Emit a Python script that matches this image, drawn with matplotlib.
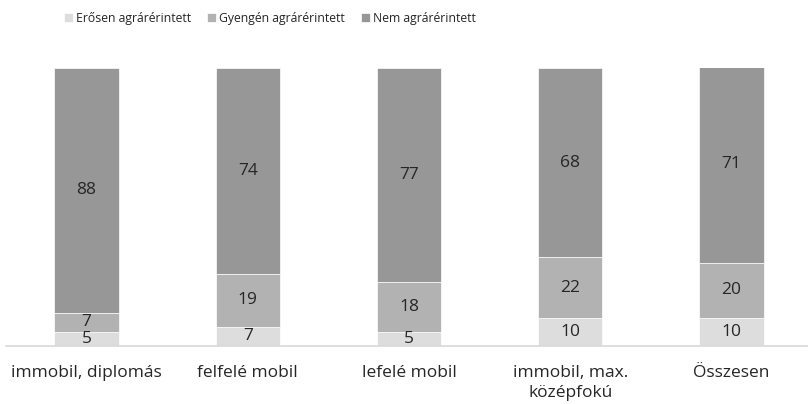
import matplotlib.pyplot as plt
import numpy as np

plt.rcParams['font.family'] = ['Open Sans', 'DejaVu Sans']

categories = ['immobil, diplomás', 'felfelé mobil', 'lefelé mobil',
              'immobil, max.\nközépfokú', 'Összesen']
series_names = ['Erősen agrárérintett', 'Gyengén agrárérintett', 'Nem agrárérintett']
eros = [5, 7, 5, 10, 10]
gyenge = [7, 19, 18, 22, 20]
nem = [88, 74, 77, 68, 71]
colors = ['#dddddd', '#b2b2b2', '#979797']

fig = plt.figure(figsize=(8.08, 4.04), dpi=100)
ax = fig.add_axes([6 / 808, 58 / 404, 806 / 808, 278 / 404])

x = np.arange(len(categories))
bottom = np.zeros(len(categories))
for name, vals, col in zip(series_names, [eros, gyenge, nem], colors):
    vals = np.array(vals)
    ax.bar(x, vals, 0.4, bottom=bottom, color=col, label=name,
           edgecolor='white', linewidth=0.5)
    for xi, b, v in zip(x, bottom, vals):
        ax.text(xi, b + v / 2, str(v), ha='center', va='center',
                fontsize=12.5, color='#262626')
    bottom += vals

ax.set_xlim(-0.5, 4.5)
ax.set_ylim(0, 100)
ax.set_xticks(x)
ax.set_xticklabels(categories, fontsize=12.5, color='#262626', linespacing=1.3)
ax.tick_params(axis='x', length=0, pad=14)
ax.set_yticks([])
for s in ['top', 'right', 'left']:
    ax.spines[s].set_visible(False)
ax.spines['bottom'].set_color('#d9d9d9')
ax.spines['bottom'].set_linewidth(1.2)

fig.legend(loc='center', bbox_to_anchor=(0.334, 0.955), ncol=3, frameon=False,
           fontsize=8.8, handlelength=0.75, handleheight=0.75, handletextpad=0.25,
           columnspacing=1.3, labelcolor='#262626')

fig.savefig('out.png', dpi=100)
